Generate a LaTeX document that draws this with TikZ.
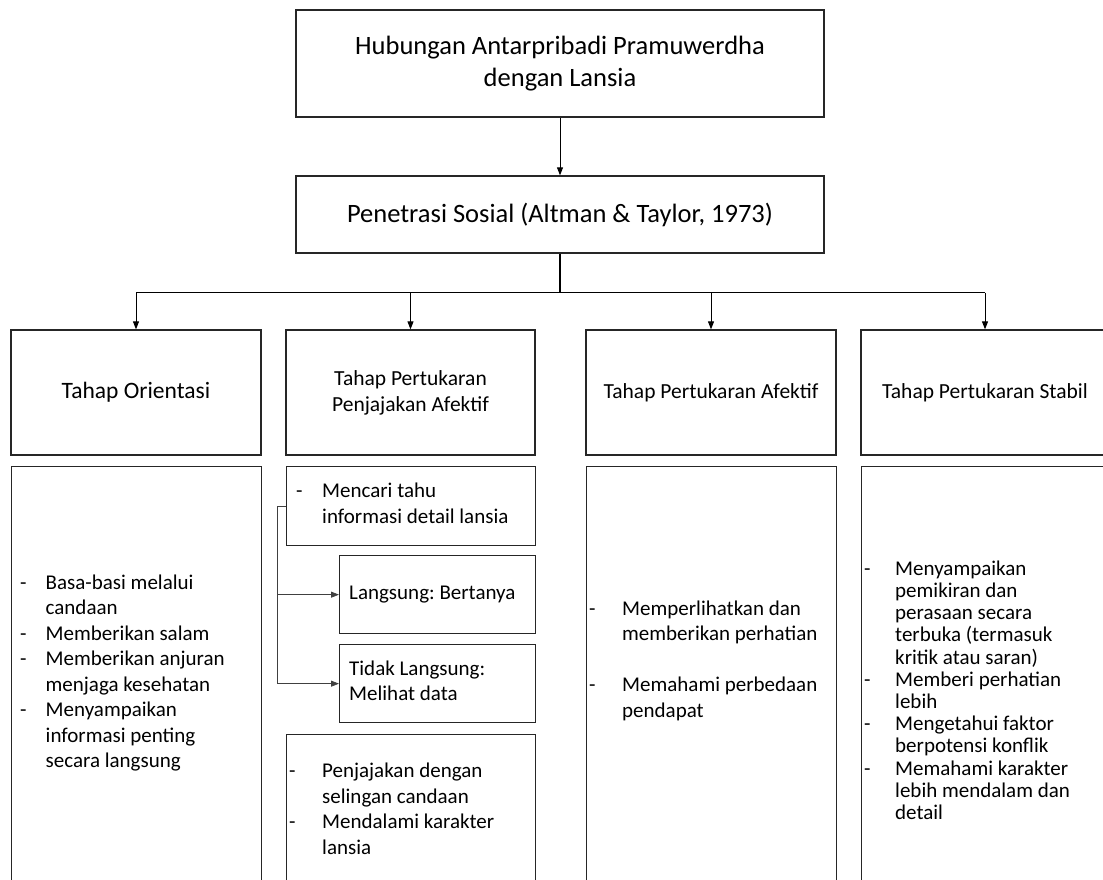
\documentclass[tikz,border=0pt]{standalone}
\usepackage{fontspec}
\setmainfont{Carlito}
\usepackage{tikz}
\usetikzlibrary{arrows.meta, positioning}
\definecolor{garis}{HTML}{262626}

\newcommand{\daftar}[2]{\begin{tabular}{@{}p{#1}@{}l@{}}#2\end{tabular}}
\newcommand{\baris}[1]{\begin{tabular}{@{}l@{}}#1\end{tabular}}

\begin{document}
\frenchspacing
\begin{tikzpicture}[x=1pt, y=-1pt, >={Stealth[length=8pt, width=6pt, inset=0pt]},
  kotak/.style={draw=garis, line width=1.3pt, inner sep=0pt, align=center},
  judul/.style={font=\fontsize{26.5}{32}\selectfont},
  tahap/.style={font=\fontsize{21.5}{26}\selectfont},
  isi/.style={font=\fontsize{21}{25.5}\selectfont, inner sep=0pt, anchor=west},
  panah/.style={->, line width=1pt},
  tipis/.style={black!75, line width=0.8pt}]
  \useasboundingbox (0,0) rectangle (1103,879);
  % Judul
  \node[kotak, judul, minimum width=528pt, minimum height=107pt] (hub) at (560,63.5)
    {Hubungan Antarpribadi Pramuwerdha\\dengan Lansia};
  \node[kotak, judul, minimum width=528pt, minimum height=77pt] (pen) at (560,214.5)
    {Penetrasi Sosial (Altman \& Taylor, 1973)};
  \draw[panah] (hub) -- (pen);
  % Tahap
  \node[kotak, tahap, font=\fontsize{23.5}{28}\selectfont, minimum width=250pt, minimum height=125pt] (o1) at (136,392.5) {Tahap Orientasi};
  \node[kotak, tahap, minimum width=249pt, minimum height=125pt] (o2) at (410.5,392.5) {Tahap Pertukaran\\Penjajakan Afektif};
  \node[kotak, tahap, minimum width=250pt, minimum height=125pt] (o3) at (711,392.5) {Tahap Pertukaran Afektif};
  \node[kotak, tahap, minimum width=248pt, minimum height=125pt] (o4) at (985,392.5) {Tahap Pertukaran Stabil};
  % Cabang
  \draw[line width=1.6pt] (pen.south) -- ++(0,39) coordinate (simpul);
  \draw[line width=1.4pt] (o1.north |- simpul) -- (o4.north |- simpul);
  \foreach \k in {o1,o2,o3,o4}
    \draw[panah] (\k.north |- simpul) -- (\k.north);
  % Kotak isi
  \node[kotak, anchor=north west, minimum width=250pt, minimum height=430pt] (b1) at (11,466) {};
  \node[kotak, anchor=north west, minimum width=249pt, minimum height=79pt] (cari) at (286,466) {};
  \node[kotak, anchor=north west, minimum width=196pt, minimum height=78pt] (lang) at (339,555) {};
  \node[kotak, anchor=north west, minimum width=196pt, minimum height=78pt] (tidak) at (339,644) {};
  \node[kotak, anchor=north west, minimum width=249pt, minimum height=160pt] (b2) at (286,734) {};
  \node[kotak, anchor=north west, minimum width=250pt, minimum height=430pt] (b3) at (586,466) {};
  \node[kotak, anchor=north west, minimum width=250pt, minimum height=430pt] (b4) at (861,466) {};
  % Teks
  \node[isi] (t1) at (20,673.5) {\daftar{25.5pt}{-&Basa-basi melalui\\&candaan\\-&Memberikan salam\\-&Memberikan anjuran\\&menjaga kesehatan\\-&Menyampaikan\\&informasi penting\\&secara langsung}};
  \node[isi] (t2) at (296,505.5) {\daftar{26pt}{-&Mencari tahu\\&informasi detail lansia}};
  \node[isi] (t3) at (349,594) {\baris{Langsung: Bertanya}};
  \node[isi] (t4) at (349,683) {\baris{Tidak Langsung:\\Melihat data}};
  \node[isi] (t5) at (289,811) {\daftar{33pt}{-&Penjajakan dengan\\&selingan candaan\\-&Mendalami karakter\\&lansia}};
  \node[isi] (t6) at (589,661) {\daftar{33pt}{-&Memperlihatkan dan\\&memberikan perhatian\\&\\-&Memahami perbedaan\\&pendapat}};
  \node[isi, font=\fontsize{21}{22.2}\selectfont] (t7) at (864,693) {\daftar{31pt}{-&Menyampaikan\\&pemikiran dan\\&perasaan secara\\&terbuka (termasuk\\&kritik atau saran)\\-&Memberi perhatian\\&lebih\\-&Mengetahui faktor\\&berpotensi konflik\\-&Memahami karakter\\&lebih mendalam dan\\&detail}};
  % Cara mencari
  \draw[tipis] (cari.west) -- ++(-9,0) coordinate (siku);
  \draw[tipis, ->] (siku) |- (lang.west);
  \draw[tipis, ->] (siku) |- (tidak.west);
\end{tikzpicture}
\end{document}
